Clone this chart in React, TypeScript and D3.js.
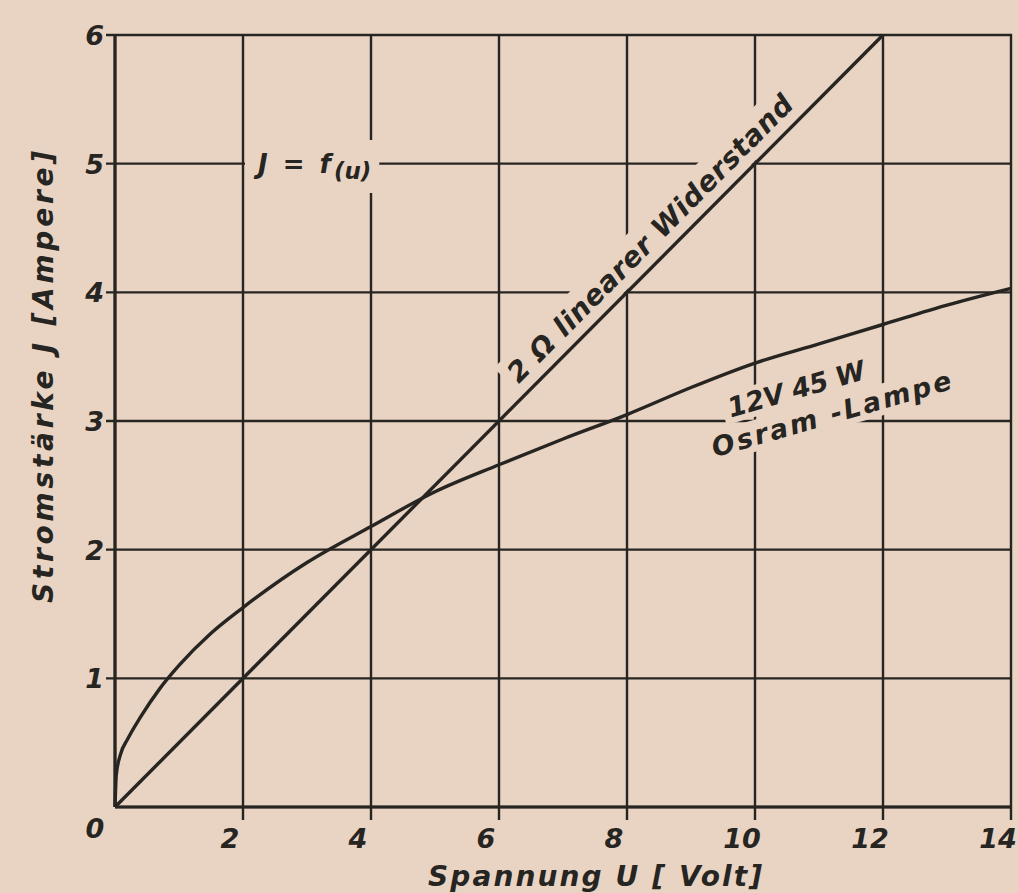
import React, { useEffect, useRef } from "react";
import { select, scaleLinear, line, curveMonotoneX } from "d3";

const W = 1018;
const H = 893;
const PAPER = "#e9d4c3";
const INK = "#272522";
const FONT = "'DejaVu Sans', 'Liberation Sans', sans-serif";

// x ticks (Volt) and y ticks (Ampere)
const X_TICKS = [0, 2, 4, 6, 8, 10, 12, 14];
const Y_TICKS = [0, 1, 2, 3, 4, 5, 6];

// 12V 45W Osram lamp
const LAMP_U = [0, 0.02, 0.08, 0.2, 0.4, 0.7, 1, 1.5, 2, 3, 4, 5, 6, 7, 8, 9, 10, 11, 12, 13, 14];
const LAMP_I = [0, 0.25, 0.4, 0.53, 0.7, 0.92, 1.1, 1.35, 1.55, 1.9, 2.18, 2.45, 2.66, 2.86, 3.05, 3.26, 3.45, 3.6, 3.75, 3.9, 4.03];

// 2 ohm linear resistor
const RES_U = [0, 12];
const RES_I = [0, 6];

export default function App() {
  const ref = useRef<SVGSVGElement>(null);

  useEffect(() => {
    if (!ref.current) return;
    const svg = select(ref.current);
    svg.selectAll("*").remove();

    const x = scaleLinear().domain([0, 14]).range([115, 1011]);
    const y = scaleLinear().domain([0, 6]).range([807, 35]);

    svg.append("rect").attr("width", W).attr("height", H).attr("fill", PAPER);

    // Grid (with little stubs outside the frame where the ticks sit)
    const grid = svg.append("g").attr("stroke", INK).attr("stroke-width", 2.4);
    grid.selectAll("line.v")
      .data(X_TICKS)
      .join("line")
      .attr("x1", (d) => x(d))
      .attr("x2", (d) => x(d))
      .attr("y1", y(6) - 1)
      .attr("y2", (d) => (d === 0 ? y(0) : y(0) + 13));
    grid.selectAll("line.h")
      .data(Y_TICKS)
      .join("line")
      .attr("y1", (d) => y(d))
      .attr("y2", (d) => y(d))
      .attr("x1", (d) => (d === 0 ? x(0) : x(0) - 9))
      .attr("x2", x(14) + 1);
    // heavier axes
    grid.append("line").attr("x1", x(0)).attr("x2", x(14)).attr("y1", y(0)).attr("y2", y(0)).attr("stroke-width", 3.2);
    grid.append("line").attr("x1", x(0)).attr("x2", x(0)).attr("y1", y(0)).attr("y2", y(6)).attr("stroke-width", 3.2);

    const inkText = (s: any) =>
      s.attr("font-family", FONT)
        .attr("font-style", "italic")
        .attr("font-weight", "bold")
        .attr("font-size", 27)
        .attr("fill", INK);

    // Tick labels
    svg.append("g")
      .selectAll("text")
      .data(X_TICKS)
      .join("text")
      .attr("x", (d) => x(d) - (d === 0 ? 20 : 13))
      .attr("y", (d) => (d === 0 ? 838 : 848))
      .attr("text-anchor", "middle")
      .call(inkText)
      .text((d) => `${d}`);

    svg.append("g")
      .selectAll("text")
      .data(Y_TICKS.filter((d) => d > 0))
      .join("text")
      .attr("x", 104)
      .attr("y", (d) => y(d) + 10)
      .attr("text-anchor", "end")
      .call(inkText)
      .text((d) => `${d}`);

    // Axis titles
    svg.append("text")
      .attr("x", 428)
      .attr("y", 886)
      .call(inkText)
      .attr("font-size", 28)
      .attr("textLength", 334)
      .attr("lengthAdjust", "spacing")
      .text("Spannung U [ Volt]");

    svg.append("text")
      .attr("transform", `translate(53, 377) rotate(-90)`)
      .attr("x", -226)
      .call(inkText)
      .attr("font-size", 28)
      .attr("textLength", 452)
      .attr("lengthAdjust", "spacing")
      .text("Stromstärke J [Ampere]");

    // Labels on the chart, each with a paper-coloured mask that breaks the grid
    const masked = (tx: number, ty: number, angle: number, build: (t: any) => void, pad: [number, number]) => {
      const g = svg.append("g").attr("transform", `translate(${tx},${ty}) rotate(${angle})`);
      const bg = g.append("rect").attr("fill", PAPER);
      const t = g.append("text").call(inkText);
      build(t);
      const b = (t.node() as SVGTextElement).getBBox();
      bg.attr("x", b.x - pad[0])
        .attr("y", b.y - pad[1])
        .attr("width", b.width + pad[0] * 2)
        .attr("height", b.height + pad[1] * 2);
    };

    masked(258, 173, 0, (t) => {
      t.attr("font-size", 26);
      t.append("tspan").attr("letter-spacing", 3).text("J = f");
      t.append("tspan").attr("font-size", 23).attr("dy", 6).text("(u)");
    }, [8, 9]);

    const resAngle = (Math.atan2(y(6) - y(0), x(12) - x(0)) * 180) / Math.PI;
    masked(x(8.6), y(4.3), resAngle, (t) => {
      t.attr("font-size", 28)
        .attr("x", -196)
        .attr("y", -12)
        .attr("textLength", 392)
        .attr("lengthAdjust", "spacing");
      t.text("2 Ω linearer Widerstand");
    }, [6, 3]);

    masked(799, 398, -16, (t) => {
      t.attr("font-size", 27).attr("x", -71).attr("textLength", 142).attr("lengthAdjust", "spacing");
      t.text("12V 45 W");
    }, [6, 0]);

    masked(834, 423, -16, (t) => {
      t.attr("font-size", 27).attr("x", -124).attr("textLength", 248).attr("lengthAdjust", "spacing");
      t.text("Osram -Lampe");
    }, [6, 0]);

    // Curves
    const res = RES_U.map((u, i) => [u, RES_I[i]] as [number, number]);
    const lamp = LAMP_U.map((u, i) => [u, LAMP_I[i]] as [number, number]);
    const gen = line<[number, number]>()
      .x((d) => x(d[0]))
      .y((d) => y(d[1]));

    svg.append("path")
      .datum(res)
      .attr("d", gen)
      .attr("fill", "none")
      .attr("stroke", INK)
      .attr("stroke-width", 3.4);

    svg.append("path")
      .datum(lamp)
      .attr("d", gen.curve(curveMonotoneX))
      .attr("fill", "none")
      .attr("stroke", INK)
      .attr("stroke-width", 3.4);
  }, []);

  return (
    <>
      <style>{"body{margin:0;overflow:hidden}"}</style>
      <svg ref={ref} width={W} height={H} style={{ display: "block" }} />
    </>
  );
}
